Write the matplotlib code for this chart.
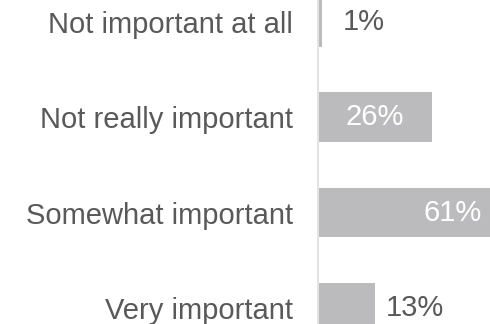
import matplotlib.pyplot as plt
import numpy as np

categories = ['Not important at all', 'Not really important', 'Somewhat important', 'Very important']
values = [1, 26, 61, 13]
labels = ['1%', '26%', '61%', '13%']

bar_color = '#BBBBBD'
text_color = '#595959'

plt.rcParams['font.family'] = ['Liberation Sans', 'DejaVu Sans']

fig = plt.figure(figsize=(4.9, 3.24), dpi=100)
ax = fig.add_axes([0.649, 0.0, 0.351, 1.0])

y = np.arange(len(categories))
ax.barh(y, values, height=0.52, color=bar_color, zorder=2)

ax.set_xlim(0, 39.4)
ax.set_ylim(3.17, -0.23)

ax.set_yticks(y)
ax.set_yticklabels(categories, fontsize=21, color=text_color)
ax.tick_params(axis='y', length=0, pad=18)
ax.set_xticks([])

for s in ['top', 'right', 'bottom']:
    ax.spines[s].set_visible(False)
ax.spines['left'].set_color('#E3E3E3')
ax.spines['left'].set_linewidth(1.5)

xmax = ax.get_xlim()[1]
# label placement: small bars outside, bigger ones inside
for i, (v, lab) in enumerate(zip(values, labels)):
    if v < 20:
        off = 15 if v < 5 else 8
        ax.annotate(lab, (v, i), xytext=(off, 0), textcoords='offset points',
                    ha='left', va='center', fontsize=21, color=text_color)
    elif v > xmax:
        ax.annotate(lab, (xmax, i), xytext=(-6, 0), textcoords='offset points',
                    ha='right', va='center', fontsize=21, color='white')
    else:
        ax.text(v / 2, i, lab, ha='center', va='center', fontsize=21, color='white')

plt.savefig('out.png', dpi=100)
